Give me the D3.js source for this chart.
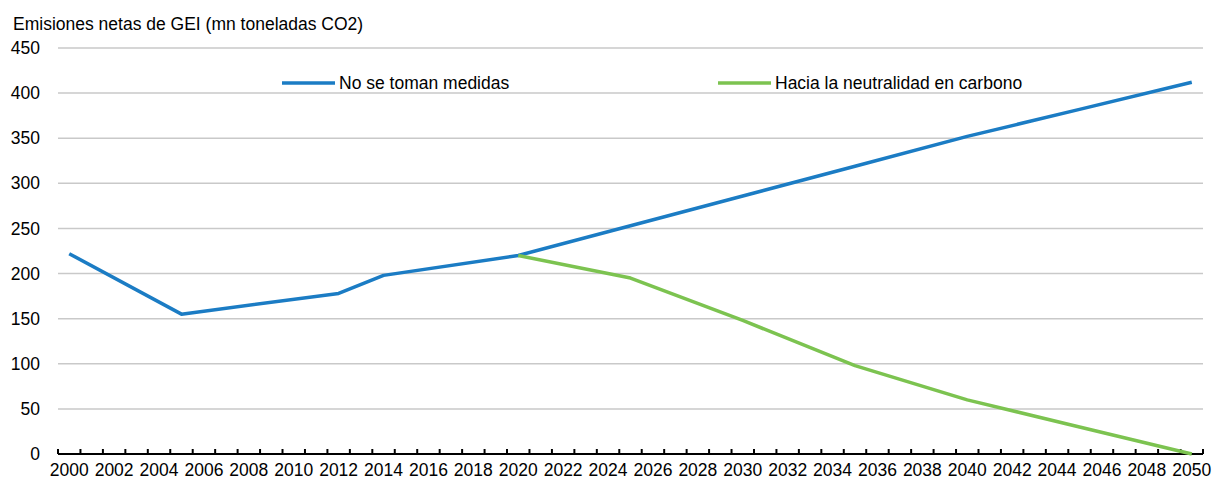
<!DOCTYPE html>
<html><head><meta charset="utf-8">
<script src="https://cdn.jsdelivr.net/npm/d3@7"></script>
<style>body{margin:0;background:#fff}svg{display:block}text{font-family:"Liberation Sans",Arial,sans-serif;fill:#000}</style>
</head><body><svg id="c" width="1212" height="480"></svg>
<script>
const years = d3.range(2000, 2051);
const tickLabels = years.filter(y => y % 2 === 0);
const yTicks = [0,50,100,150,200,250,300,350,400,450];
const seriesNames = ["No se toman medidas", "Hacia la neutralidad en carbono"];
const bauYears = [2000,2005,2012,2014,2020,2025,2030,2035,2040,2045,2050];
const bauValues = [222,155,178,198,220,253,286,319,352,382,412];
const netYears = [2020,2025,2030,2035,2040,2045,2050];
const netValues = [220,195,148,98,60,30,0];
const colors = ["#1b7cc4","#7cc350"];
const title = "Emisiones netas de GEI (mn toneladas CO2)";

const FS = 17.5;
const svg = d3.select("#c");
const m = {l:58, r:9, t:48, b:26};
const W = 1212, H = 480;
const x = d3.scaleBand().domain(years).range([m.l, W - m.r]);
const y = d3.scaleLinear().domain([0,450]).range([H - m.b, m.t]);
const cx = v => x(v) + x.bandwidth()/2;

svg.append("text").attr("x",13).attr("y",30).attr("font-size",FS).text(title);

// gridlines
svg.append("g").selectAll("line").data(yTicks.filter(d=>d>0)).join("line")
  .attr("x1", m.l).attr("x2", W - m.r)
  .attr("y1", d=>y(d)).attr("y2", d=>y(d))
  .attr("stroke","#c9c9c9").attr("stroke-width",1.5);

// y labels
svg.append("g").selectAll("text").data(yTicks).join("text")
  .attr("x", 40).attr("y", d=>y(d)).attr("dy","0.35em")
  .attr("text-anchor","end").attr("font-size",FS).text(d=>d);

// x axis
const ax = svg.append("g");
ax.append("line").attr("x1", m.l).attr("x2", W - m.r)
  .attr("y1", y(0)).attr("y2", y(0)).attr("stroke","#000").attr("stroke-width",2);
const bounds = years.map(v => x(v)).concat([x(2050)+x.bandwidth()]);
ax.selectAll("line.t").data(bounds).join("line").attr("class","t")
  .attr("x1", d=>d).attr("x2", d=>d).attr("y1", y(0)-5).attr("y2", y(0))
  .attr("stroke","#000").attr("stroke-width",2);
ax.selectAll("text").data(tickLabels).join("text")
  .attr("x", d=>cx(d)).attr("y", 476).attr("text-anchor","middle")
  .attr("font-size",FS).text(d=>d);

const line = d3.line().x(d=>cx(d[0])).y(d=>y(d[1]));
svg.append("path").datum(d3.zip(bauYears,bauValues)).attr("d",line)
  .attr("fill","none").attr("stroke",colors[0]).attr("stroke-width",3.5).attr("stroke-linejoin","round");
svg.append("path").datum(d3.zip(netYears,netValues)).attr("d",line)
  .attr("fill","none").attr("stroke",colors[1]).attr("stroke-width",3.5).attr("stroke-linejoin","round");

// legend
const leg = [{x:282, n:seriesNames[0], c:colors[0]},{x:718, n:seriesNames[1], c:colors[1]}];
const lg = svg.append("g").selectAll("g").data(leg).join("g");
lg.append("line").attr("x1",d=>d.x).attr("x2",d=>d.x+53).attr("y1",83).attr("y2",83)
  .attr("stroke",d=>d.c).attr("stroke-width",3.5);
lg.append("text").attr("x",d=>d.x+57).attr("y",83).attr("dy","0.35em").attr("font-size",FS).text(d=>d.n);
</script></body></html>
